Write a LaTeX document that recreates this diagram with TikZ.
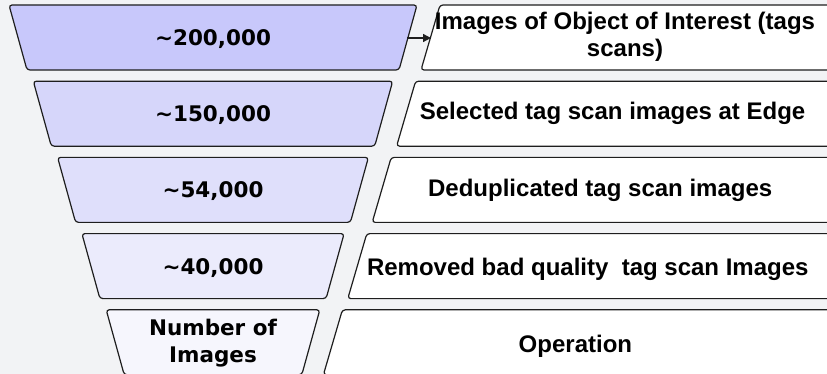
\documentclass[tikz,border=0pt]{standalone}
\usepackage{fontspec}
\setmainfont{Liberation Sans}
\newfontfamily\countfont{DejaVu Sans}
\usetikzlibrary{arrows.meta}
\definecolor{canvas}{HTML}{F2F3F5}
\definecolor{edge}{HTML}{1E1E1E}
\definecolor{rowA}{HTML}{C8C8FB}
\definecolor{rowB}{HTML}{D6D6FA}
\definecolor{rowC}{HTML}{DFDFFB}
\definecolor{rowD}{HTML}{EBEBFC}
\definecolor{rowE}{HTML}{F6F6FD}
\tikzset{
  funnel/.style={draw=edge, line width=1.2pt, rounded corners=3pt, line join=round},
  opbox/.style={draw=edge, line width=1.2pt, rounded corners=3pt, fill=white, line join=round},
  counttext/.style={font=\countfont\bfseries\fontsize{21.5}{27}\selectfont, anchor=base, inner sep=0pt, align=center},
  optext/.style={font=\bfseries\fontsize{24}{27}\selectfont, anchor=base, inner sep=0pt, align=center},
  flow/.style={draw=edge, line width=1.3pt, -{Triangle[length=8pt,width=8pt]}}
}
\begin{document}
\begin{tikzpicture}[x=1pt,y=-1pt]
  \fill[canvas] (0,0) rectangle (827,374);
  \useasboundingbox (0,0) rectangle (827,374);
  \clip (0,0) rectangle (827,374);

  % funnel stages (counts)
  \draw[funnel, fill=rowA] (9,5) -- (417,5) -- (399,70) -- (27,70) -- cycle;
  \draw[funnel, fill=rowB] (33.3,81.2) -- (392.7,81.2) -- (374.7,146.2) -- (51.3,146.2) -- cycle;
  \draw[funnel, fill=rowC] (57.6,157.4) -- (368.4,157.4) -- (350.4,222.4) -- (75.6,222.4) -- cycle;
  \draw[funnel, fill=rowD] (81.9,233.6) -- (344.1,233.6) -- (326.1,298.6) -- (99.9,298.6) -- cycle;
  \draw[funnel, fill=rowE] (106.2,309.8) -- (319.8,309.8) -- (301.8,374.8) -- (124.2,374.8) -- cycle;

  % operation boxes
  \draw[opbox] (440,5) -- (850,5) -- (850,70) -- (421,70) -- cycle;
  \draw[opbox] (415.6,81.2) -- (850,81.2) -- (850,146.2) -- (396.6,146.2) -- cycle;
  \draw[opbox] (391.2,157.4) -- (850,157.4) -- (850,222.4) -- (372.2,222.4) -- cycle;
  \draw[opbox] (366.8,233.6) -- (850,233.6) -- (850,298.6) -- (347.8,298.6) -- cycle;
  \draw[opbox] (342.4,309.8) -- (850,309.8) -- (850,374.8) -- (323.4,374.8) -- cycle;

  % counts
  \node[counttext] (c1) at (213,45.5) {\textasciitilde200,000};
  \node[counttext] (c2) at (213,121.7) {\textasciitilde150,000};
  \node[counttext] (c3) at (213,197.9) {\textasciitilde54,000};
  \node[counttext] (c4) at (213,274.1) {\textasciitilde40,000};
  \node[counttext] (c5) at (213,362) {Number of\\Images};

  % operations
  \node[optext] (o1) at (625,57) {Images of Object of Interest (tags\\scans)};
  \node[optext] (o2) at (612.6,120) {Selected tag scan images at Edge};
  \node[optext] (o3) at (600.2,196.5) {Deduplicated tag scan images};
  \node[optext] (o4) at (587.8,275) {Removed bad quality\ \ tag scan Images};
  \node[optext] (o5) at (575.4,352) {Operation};

  % link from the first stage to its operation
  \coordinate (s1) at (407,38);
  \coordinate (p1) at (431,38);
  \draw[flow] (s1) -- (p1);
\end{tikzpicture}
\end{document}
